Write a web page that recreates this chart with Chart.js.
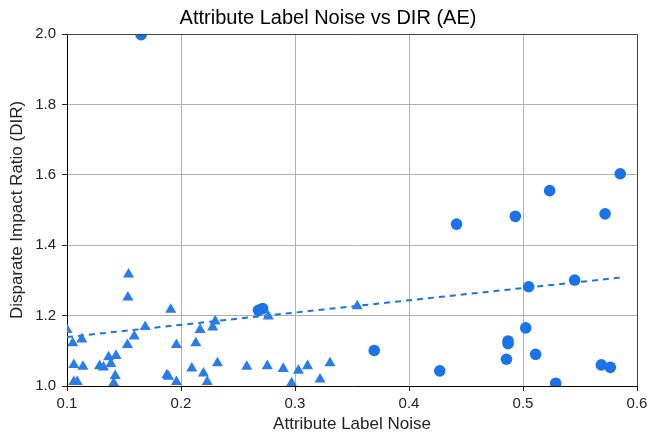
<!DOCTYPE html>
<html>
<head>
<meta charset="utf-8">
<script src="https://cdn.jsdelivr.net/npm/chart.js"></script>
<style>
  html, body { margin: 0; padding: 0; background: #fff; }
  #wrap { width: 649px; height: 435px; }
</style>
</head>
<body>
<div id="wrap"><canvas id="dirChart"></canvas></div>
<script>
// noktalar: daireler
const circleX = [0.165, 0.268, 0.2716, 0.3695, 0.427, 0.4417, 0.4855, 0.4869, 0.4869, 0.4933,
  0.5024, 0.505, 0.5111, 0.5234, 0.5287, 0.5453, 0.5687, 0.572, 0.5766, 0.5853];
const circleY = [1.998, 1.215, 1.22, 1.101, 1.043, 1.46, 1.076, 1.128, 1.12, 1.482,
  1.165, 1.282, 1.09, 1.555, 1.008, 1.301, 1.06, 1.489, 1.053, 1.603];

// noktalar: ucgenler
const triangleX = [0.1, 0.105, 0.106, 0.106, 0.109, 0.113, 0.114, 0.1286, 0.132, 0.1365,
  0.1385, 0.141, 0.1423, 0.143, 0.153, 0.1534, 0.154, 0.159, 0.1686, 0.1876,
  0.189, 0.191, 0.196, 0.196, 0.2095, 0.213, 0.2168, 0.2197, 0.223, 0.2278,
  0.23, 0.232, 0.2577, 0.2757, 0.2766, 0.2897, 0.297, 0.303, 0.311, 0.322,
  0.3307, 0.3546];
const triangleY = [1.16, 1.122, 1.06, 1.012, 1.012, 1.133, 1.055, 1.057, 1.053, 1.082,
  1.063, 1.008, 1.029, 1.086, 1.117, 1.252, 1.317, 1.141, 1.168, 1.031,
  1.027, 1.217, 1.117, 1.012, 1.05, 1.122, 1.16, 1.036, 1.012, 1.167,
  1.184, 1.065, 1.055, 1.057, 1.198, 1.049, 1.008, 1.044, 1.057, 1.019,
  1.065, 1.227];

// egilim cizgisi
const trendX = [0.1, 0.5853];
const trendY = [1.139, 1.308];

const xTicks = [0.1, 0.2, 0.3, 0.4, 0.5, 0.6];
const yTicks = [1.0, 1.2, 1.4, 1.6, 1.8, 2.0];

const blue = '#1a73e8';
const font = 'Liberation Sans, Arial, sans-serif';

const pts = (xs, ys) => xs.map((x, i) => ({ x: x, y: ys[i] }));

// sag ve ust cerceve
const framePlugin = {
  id: 'frame',
  afterDraw(chart) {
    const a = chart.chartArea, ctx = chart.ctx;
    ctx.save();
    ctx.strokeStyle = '#444';
    ctx.lineWidth = 1;
    ctx.beginPath();
    ctx.moveTo(a.left, a.top + 0.5);
    ctx.lineTo(a.right + 0.5, a.top + 0.5);
    ctx.lineTo(a.right + 0.5, a.bottom);
    ctx.stroke();
    ctx.restore();
  }
};

new Chart(document.getElementById('dirChart'), {
  type: 'scatter',
  data: {
    datasets: [
      {
        label: 'circles',
        data: pts(circleX, circleY),
        pointStyle: 'circle',
        pointRadius: 5.8,
        pointHoverRadius: 5.8,
        backgroundColor: blue,
        borderColor: blue,
        borderWidth: 0
      },
      {
        label: 'triangles',
        data: pts(triangleX, triangleY),
        pointStyle: 'triangle',
        pointRadius: 6.4,
        pointHoverRadius: 6.4,
        backgroundColor: '#2a7de9',
        borderColor: '#2a7de9',
        borderWidth: 0
      },
      {
        type: 'line',
        label: 'trend',
        data: pts(trendX, trendY),
        borderColor: blue,
        borderWidth: 2,
        borderDash: [6, 5],
        pointRadius: 0,
        fill: false
      }
    ]
  },
  options: {
    responsive: true,
    maintainAspectRatio: false,
    animation: false,
    layout: { padding: { left: 7, right: 0, top: 0, bottom: 0 } },
    plugins: {
      legend: { display: false },
      tooltip: { enabled: false },
      title: {
        display: true,
        text: 'Attribute Label Noise vs DIR (AE)',
        color: '#000',
        font: { family: font, size: 20, weight: 'normal' },
        padding: { top: 6.5, bottom: 3.5 }
      }
    },
    scales: {
      x: {
        type: 'linear',
        min: 0.1,
        max: 0.6,
        afterBuildTicks: s => { s.ticks = xTicks.map(v => ({ value: v })); },
        afterFit: s => { s.height = 49; s.paddingRight = 12; s.paddingLeft = 0; },
        ticks: {
          color: '#222',
          padding: 4,
          font: { family: font, size: 15 },
          callback: v => Number(v).toFixed(1)
        },
        grid: { color: '#b0b0b0', tickColor: '#222', tickLength: 5, lineWidth: 1 },
        border: { color: '#000', width: 1 },
        title: {
          display: true,
          text: 'Attribute Label Noise',
          color: '#222',
          font: { family: font, size: 17 },
          padding: 0
        }
      },
      y: {
        type: 'linear',
        min: 1.0,
        max: 2.0,
        afterBuildTicks: s => { s.ticks = yTicks.map(v => ({ value: v })); },
        afterFit: s => { s.width = 60; },
        ticks: {
          color: '#222',
          padding: 6,
          font: { family: font, size: 15 },
          callback: v => Number(v).toFixed(1)
        },
        grid: { color: '#b0b0b0', tickColor: '#222', tickLength: 5, lineWidth: 1 },
        border: { color: '#000', width: 1 },
        title: {
          display: true,
          text: 'Disparate Impact Ratio (DIR)',
          color: '#222',
          font: { family: font, size: 17 },
          padding: 0
        }
      }
    }
  },
  plugins: [framePlugin]
});
</script>
</body>
</html>
